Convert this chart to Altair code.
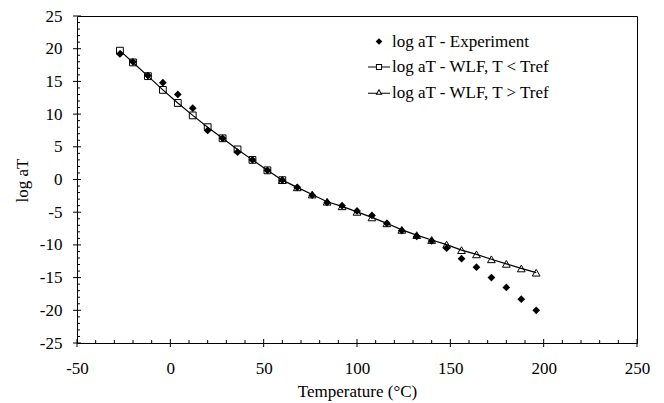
import altair as alt
import pandas as pd

# ---- data ----
temps = [-27, -20, -12, -4, 4, 12, 20, 28, 36, 44, 52, 60, 68, 76, 84, 92,
         100, 108, 116, 124, 132, 140, 148, 156, 164, 172, 180, 188, 196]
exp_vals = [19.2, 18.0, 15.9, 14.8, 13.0, 10.9, 7.5, 6.3, 4.2, 3.0, 1.4, -0.1,
            -1.2, -2.4, -3.5, -4.0, -4.8, -5.5, -6.7, -7.8, -8.7, -9.4, -10.5,
            -12.1, -13.4, -15.0, -16.5, -18.3, -20.0]
wlf_low_T = [-27, -20, -12, -4, 4, 12, 20, 28, 36, 44, 52, 60]
wlf_low = [19.7, 17.9, 15.8, 13.7, 11.7, 9.8, 8.0, 6.3, 4.6, 3.0, 1.4, -0.1]
wlf_high_T = [60, 68, 76, 84, 92, 100, 108, 116, 124, 132, 140, 148, 156,
              164, 172, 180, 188, 196]
wlf_high = [-0.1, -1.2, -2.3, -3.4, -4.1, -4.95, -5.8, -6.7, -7.7, -8.5,
            -9.25, -9.95, -10.8, -11.45, -12.2, -12.9, -13.6, -14.25]

series_names = ["log aT - Experiment", "log aT - WLF, T < Tref", "log aT - WLF, T > Tref"]
x_major = [-50, 0, 50, 100, 150, 200, 250]
y_major = [-25, -20, -15, -10, -5, 0, 5, 10, 15, 20, 25]
x_minor = [t for t in range(-50, 251, 10) if t % 50 != 0]
y_minor = [v for v in range(-25, 26, 1) if v % 5 != 0]

FONT = "Liberation Serif"
W, H = 560, 327

df_exp = pd.DataFrame({"T": temps, "v": exp_vals, "series": series_names[0]})
df_low = pd.DataFrame({"T": wlf_low_T, "v": wlf_low, "series": series_names[1]})
df_high = pd.DataFrame({"T": wlf_high_T, "v": wlf_high, "series": series_names[2]})
df_all = pd.concat([df_exp, df_low, df_high], ignore_index=True)

xs = alt.Scale(domain=[-50, 250], nice=False, zero=False)
ys = alt.Scale(domain=[-25, 25], nice=False, zero=False)

x_axis = alt.Axis(
    values=x_major, labelExpr="'' + datum.value", orient="bottom",
    ticks=False, domain=False, labelPadding=17,
    labelFlush=False, labelOverlap=False, grid=False,
    labelFont=FONT, labelFontSize=17, labelColor="black",
    title="Temperature (°C)", titleFont=FONT, titleFontSize=17,
    titleFontWeight="normal", titleColor="black",
    titleY=48, titleBaseline="middle",
)
y_axis = alt.Axis(
    values=y_major, labelExpr="'' + datum.value", orient="left",
    ticks=False, domain=False, labelPadding=15,
    labelFlush=False, labelOverlap=False, grid=False,
    labelFont=FONT, labelFontSize=17, labelColor="black",
    title="log aT", titleFont=FONT, titleFontSize=17,
    titleFontWeight="normal", titleColor="black",
    titleX=-55, titleY=164, titleAngle=270, titleBaseline="middle", titleAlign="center",
)

X = alt.X("T:Q", scale=xs, axis=x_axis)
Y = alt.Y("v:Q", scale=ys, axis=y_axis)

# tick marks (major ticks cross the frame, minor ticks point inward)
xt_major = alt.Chart(pd.DataFrame({"T": x_major})).mark_tick(
    orient="vertical", color="black", thickness=1, size=8, opacity=1
).encode(x=X, y=alt.value(H))
xt_minor = alt.Chart(pd.DataFrame({"T": x_minor})).mark_tick(
    orient="vertical", color="black", thickness=1, size=3, opacity=1
).encode(x=X, y=alt.value(H - 1.5))
yt_major = alt.Chart(pd.DataFrame({"v": y_major})).mark_tick(
    orient="horizontal", color="black", thickness=1, size=8, opacity=1
).encode(y=Y, x=alt.value(0))
yt_minor = alt.Chart(pd.DataFrame({"v": y_minor})).mark_tick(
    orient="horizontal", color="black", thickness=1, size=3, opacity=1
).encode(y=Y, x=alt.value(1.5))

line_low = alt.Chart(df_low).mark_line(color="black", strokeWidth=1.2).encode(x=X, y=Y)
pts_low = alt.Chart(df_low).mark_point(shape="square", filled=False, color="black",
                                        size=46, strokeWidth=1, opacity=1).encode(x=X, y=Y)
line_high = alt.Chart(df_high).mark_line(color="black", strokeWidth=1.2).encode(x=X, y=Y)
pts_high = alt.Chart(df_high).mark_point(shape="triangle-up", filled=False, color="black",
                                          size=60, strokeWidth=1, opacity=1).encode(x=X, y=Y)
pts_exp = alt.Chart(df_exp).mark_point(shape="diamond", filled=True, color="black",
                                        size=60, opacity=1).encode(x=X, y=Y)

legend_paths = [
    "M0,-0.3L0.3,0L0,0.3L-0.3,0Z",
    "M-1,-0.045H-0.28V0.045H-1Z M0.28,-0.045H1V0.045H0.28Z "
    "M-0.28,-0.28H0.28V0.28H-0.28Z M-0.19,-0.19V0.19H0.19V-0.19Z",
    "M-1,0.03H-0.22V0.12H-1Z M0.22,0.03H1V0.12H0.22Z "
    "M0,-0.34L0.31,0.2H-0.31Z M0,-0.16L-0.15,0.11H0.15Z",
]
leg = alt.Legend(orient="none", legendX=291, legendY=14.5, title=None,
                 labelFont=FONT, labelFontSize=17, labelColor="black",
                 symbolSize=484, symbolFillColor="black", symbolStrokeWidth=0,
                 padding=0, rowPadding=6.5, labelOffset=2, labelLimit=400)

legend_layer = alt.Chart(df_all).mark_point(filled=True, opacity=1, color="black").encode(
    x=X, y=Y,
    shape=alt.Shape("series:N", scale=alt.Scale(domain=series_names, range=legend_paths),
                    legend=leg),
).transform_filter("false")

chart = alt.layer(
    xt_major, xt_minor, yt_major, yt_minor,
    line_low, line_high, pts_low, pts_high, pts_exp, legend_layer
).properties(
    width=W, height=H, background="white",
    autosize=alt.AutoSizeParams(type="none"),
    padding={"left": 69, "top": 8, "right": 18, "bottom": 60},
).configure_view(stroke="black", strokeWidth=1)

chart.save("out.html", embed_options={"renderer": "svg", "actions": False})
